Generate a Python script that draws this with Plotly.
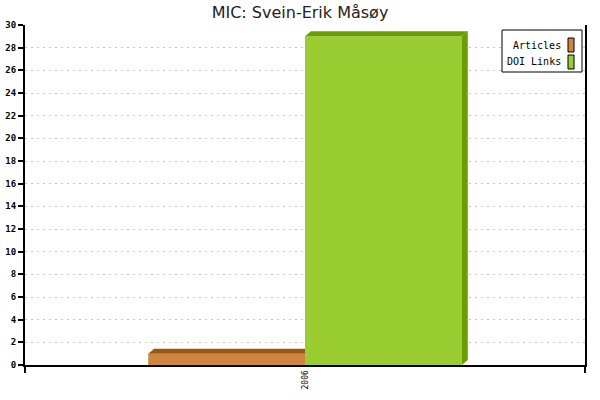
import plotly.graph_objects as go

# data
years = ['2006']
series_names = ['Articles', 'DOI Links']
articles = [1]
doi_links = [29]
y_ticks = list(range(0, 31, 2))

front_colors = ['#CD853F', '#9ACD32']
dark_colors = ['#9A5616', '#6B9E00']

bar_w = 0.28   # width of one bar in axis units
dx = 0.0107    # depth of the fake 3d effect (x units)
dy = 0.44      # depth of the fake 3d effect (y units)

fig = go.Figure()

for i, (name, vals) in enumerate(zip(series_names, [articles, doi_links])):
    off = -bar_w + i * bar_w
    fig.add_trace(go.Bar(
        x=[0], y=vals, width=bar_w, offset=off,
        marker=dict(color=front_colors[i], line=dict(width=0)),
        name=name, showlegend=False, hoverinfo='skip'
    ))

for i, (name, vals) in enumerate(zip(series_names, [articles, doi_links])):
    off = -bar_w + i * bar_w
    v = vals[0]
    x0, x1 = off, off + bar_w
    last = i == len(series_names) - 1
    xr = x1 + dx if last else x1
    # top face
    fig.add_trace(go.Scatter(
        x=[x0, x0 + dx, xr, x1, x0], y=[v, v + dy, v + dy, v, v],
        fill='toself', fillcolor=dark_colors[i], mode='none',
        showlegend=False, hoverinfo='skip'
    ))
    # side face (only visible on the last bar)
    if last:
        fig.add_trace(go.Scatter(
            x=[x1, x1 + dx, x1 + dx, x1, x1], y=[0, dy, v + dy, v, 0],
            fill='toself', fillcolor=dark_colors[i], mode='none',
            showlegend=False, hoverinfo='skip'
        ))

mono = dict(family='DejaVu Sans Mono', size=8, color='black')

fig.update_layout(
    width=600, height=400,
    margin=dict(l=25, r=15, t=25, b=35),
    paper_bgcolor='white', plot_bgcolor='white',
    barmode='overlay',
    showlegend=False,
    title=dict(text='MIC: Svein-Erik Måsøy', x=0.5, xanchor='center',
               y=0.97, yanchor='middle',
               font=dict(family='DejaVu Sans', size=16, color='#222')),
)

fig.update_xaxes(
    range=[-0.5, 0.5], tickvals=[0], ticktext=years, tickangle=-90,
    ticks='', showgrid=False, zeroline=False, automargin=False,
    showline=True, linecolor='black', linewidth=2,
    tickfont=mono,
    minor=dict(tickvals=[-0.5, 0.5], ticks='outside', ticklen=6,
               tickcolor='black', tickwidth=2, showgrid=False),
)
fig.update_yaxes(
    range=[0, 30], tickvals=y_ticks, ticks='outside', ticklen=5,
    tickcolor='black', tickwidth=2, automargin=False,
    showline=True, linecolor='black', linewidth=2, mirror=True,
    showgrid=True, gridcolor='#c4c4c4', griddash='2px,4px', gridwidth=1,
    zeroline=False,
    tickfont=dict(family='DejaVu Sans Mono', size=9, color='black', weight='bold'),
)

# legend drawn by hand so the swatches sit on the right like the original
def px_x(p):
    return (p - 25) / 560

def px_y(p):
    return (365 - p) / 340

fig.add_shape(type='rect', xref='paper', yref='paper',
              x0=px_x(502), x1=px_x(582), y0=px_y(30), y1=px_y(72),
              line=dict(color='black', width=1), fillcolor='white', layer='above')
for i, name in enumerate(series_names):
    cy = 45 + i * 17
    fig.add_shape(type='rect', xref='paper', yref='paper',
                  x0=px_x(568), x1=px_x(574), y0=px_y(cy - 7), y1=px_y(cy + 7),
                  line=dict(color='black', width=1), fillcolor=front_colors[i],
                  layer='above')
    fig.add_annotation(text=name, xref='paper', yref='paper',
                       x=px_x(563), y=px_y(cy), xanchor='right', yanchor='middle',
                       showarrow=False,
                       font=dict(family='DejaVu Sans Mono', size=10, color='black'))

# page body has a default margin, drop it so the chart sits at (0, 0)
fig.write_html("out.html", config={'displayModeBar': False},
               post_script="document.body.style.margin='0';")
